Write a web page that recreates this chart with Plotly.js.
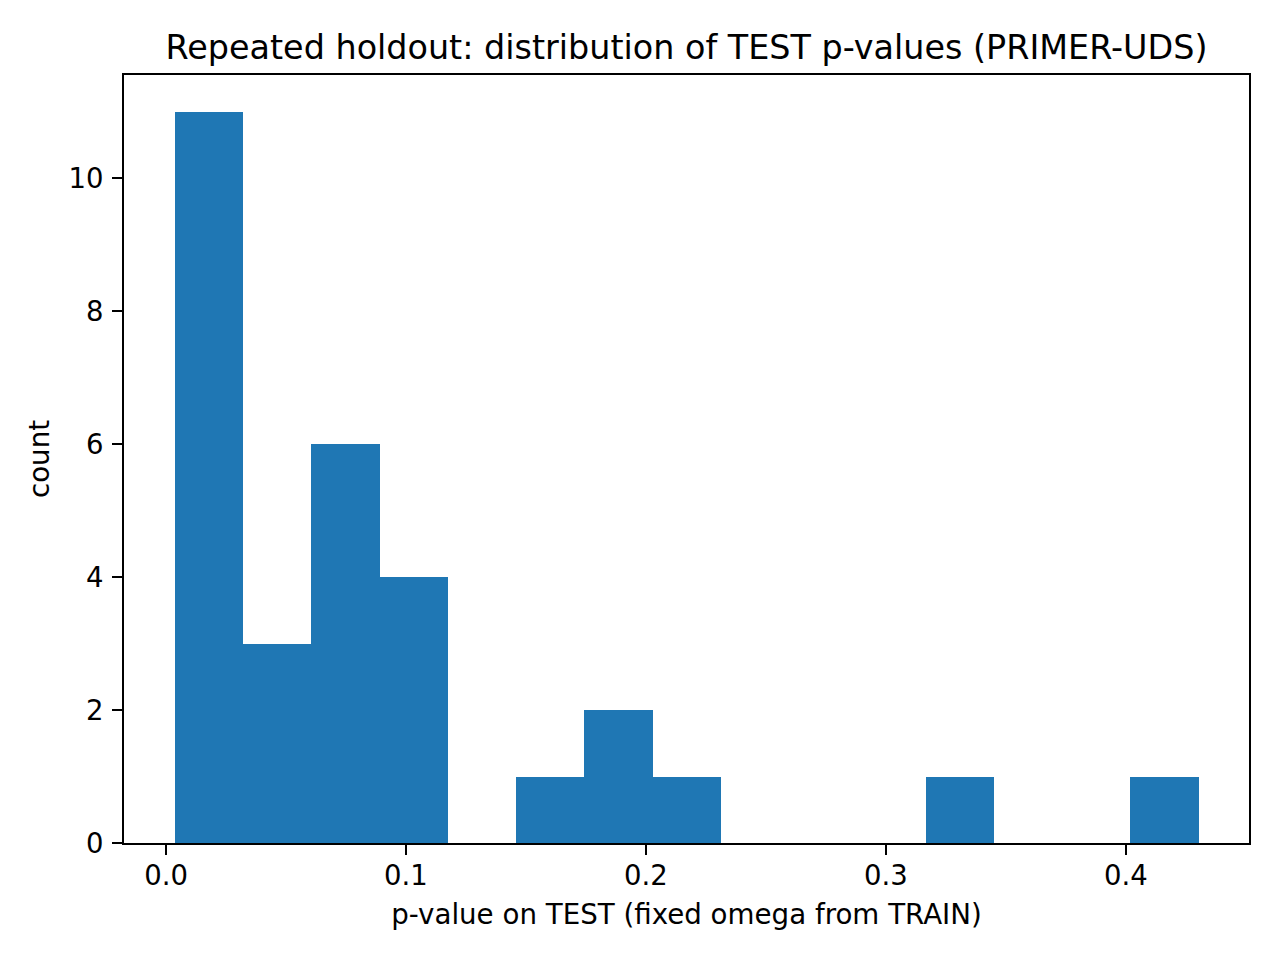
<!DOCTYPE html>
<html>
<head>
<meta charset="utf-8">
<script src="https://cdn.plot.ly/plotly-3.0.1.min.js"></script>
<style>html,body{margin:0;padding:0;background:#fff;}#chart{width:1280px;height:960px;}</style>
</head>
<body>
<div id="chart"></div>
<script>
// Histogram of TEST p-values (15 bins)
const binStart = 0.00375;
const binWidth = 0.02844;
const counts = [11, 3, 6, 4, 0, 1, 2, 1, 0, 0, 0, 1, 0, 0, 1];
const xTickVals = [0.0, 0.1, 0.2, 0.3, 0.4];
const yTickVals = [0, 2, 4, 6, 8, 10];

const centers = counts.map((c, i) => binStart + binWidth * (i + 0.5));
const widths = counts.map(() => binWidth);

const font = {family: 'DejaVu Sans, sans-serif', color: '#000'};

Plotly.newPlot('chart', [{
  type: 'bar',
  x: centers,
  y: counts,
  width: widths,
  marker: {color: '#1f77b4', line: {width: 0}},
  hoverinfo: 'x+y'
}], {
  width: 1280, height: 960,
  paper_bgcolor: '#fff', plot_bgcolor: '#fff',
  margin: {l: 124, r: 31, t: 75, b: 117, pad: 0},
  showlegend: false,
  bargap: 0,
  title: {
    text: 'Repeated holdout: distribution of TEST p-values (PRIMER-UDS)',
    font: Object.assign({size: 33.4}, font),
    x: 0.5, xref: 'paper', xanchor: 'center',
    y: 1 - 47/960, yref: 'container', yanchor: 'middle'
  },
  xaxis: {
    range: [-0.0175, 0.4513],
    tickvals: xTickVals, tickformat: '.1f',
    ticks: 'outside', ticklen: 10, tickwidth: 2.2, tickcolor: '#000',
    showline: true, linecolor: '#000', linewidth: 2.2, mirror: true,
    showgrid: false, zeroline: false,
    ticklabelstandoff: -3,
    tickfont: Object.assign({size: 27.5}, font),
    title: {text: 'p-value on TEST (fixed omega from TRAIN)', font: Object.assign({size: 27.7}, font), standoff: 15}
  },
  yaxis: {
    range: [0, 11.55],
    tickvals: yTickVals,
    ticks: 'outside', ticklen: 10, tickwidth: 2.2, tickcolor: '#000',
    showline: true, linecolor: '#000', linewidth: 2.2, mirror: true,
    showgrid: false, zeroline: false,
    ticklabelstandoff: 3,
    tickfont: Object.assign({size: 27.5}, font),
    title: {text: 'count', font: Object.assign({size: 27.7}, font), standoff: 11}
  }
}, {displayModeBar: false, staticPlot: false});
</script>
</body>
</html>
